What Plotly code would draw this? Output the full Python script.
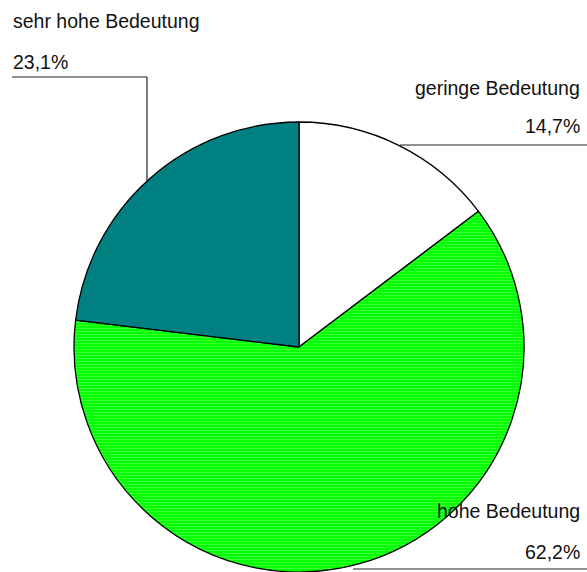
"""
Kreisdiagramm: Bedeutung (Anteile in %)
"""

import plotly.graph_objects as go

W, H = 587, 572

# Daten
kategorien = ['geringe Bedeutung', 'hohe Bedeutung', 'sehr hohe Bedeutung']
anteile = [14.7, 62.2, 23.1]
farben = ['#FFFFFF', '#00FF00', '#008080']


def px(x, y):
    """Pixel (von oben links) -> Papierkoordinaten"""
    return x / W, 1 - y / H


def fmt(v):
    return f'{v:.1f}%'.replace('.', ',')


fig = go.Figure()

fig.add_trace(go.Pie(
    labels=kategorien,
    values=anteile,
    sort=False,
    direction='clockwise',
    rotation=0,
    textinfo='none',
    hoverinfo='label+percent',
    marker=dict(
        colors=farben,
        line=dict(color='#000000', width=1.3),
        pattern=dict(shape=['', '-', ''], bgcolor=farben, fgcolor='#66FF66',
                     fgopacity=0.7, size=3, solidity=0.25),
    ),
    domain=dict(x=[73 / W, 525 / W], y=[0, 450 / H]),
    showlegend=False,
))

# Beschriftungen (Position in Pixeln, Ausrichtung)
beschriftung = {
    'sehr hohe Bedeutung': dict(x=11, y1=21, y2=62, anchor='left'),
    'geringe Bedeutung': dict(x=582, y1=88, y2=126, anchor='right'),
    'hohe Bedeutung': dict(x=582, y1=511, y2=552, anchor='right'),
}

schrift = dict(family='Liberation Sans, Arial, sans-serif', size=19.5, color='#111111')

for kat, wert in zip(kategorien, anteile):
    b = beschriftung[kat]
    for txt, yy in [(kat, b['y1']), (fmt(wert), b['y2'])]:
        x, y = px(b['x'], yy)
        fig.add_annotation(x=x, y=y, xref='paper', yref='paper', text=txt,
                           showarrow=False, xanchor=b['anchor'], yanchor='middle',
                           font=schrift)

# Führungslinien
linien = [
    [(12, 77), (147, 77), (147, 182)],
    [(400, 145), (587, 145)],
    [(353, 569), (587, 569)],
]
for punkte in linien:
    for (xa, ya), (xb, yb) in zip(punkte[:-1], punkte[1:]):
        x0, y0 = px(xa, ya)
        x1, y1 = px(xb, yb)
        fig.add_shape(type='line', xref='paper', yref='paper',
                      x0=x0, y0=y0, x1=x1, y1=y1,
                      line=dict(color='#222222', width=1.2))

fig.update_layout(
    width=W,
    height=H,
    margin=dict(l=0, r=0, t=0, b=0),
    paper_bgcolor='white',
    plot_bgcolor='white',
)

# Seitenrand entfernen, damit die Grafik genau ins Fenster passt
fig.write_html('out.html', config={'displayModeBar': False},
               post_script="document.body.style.margin='0';document.body.style.overflow='hidden';")
